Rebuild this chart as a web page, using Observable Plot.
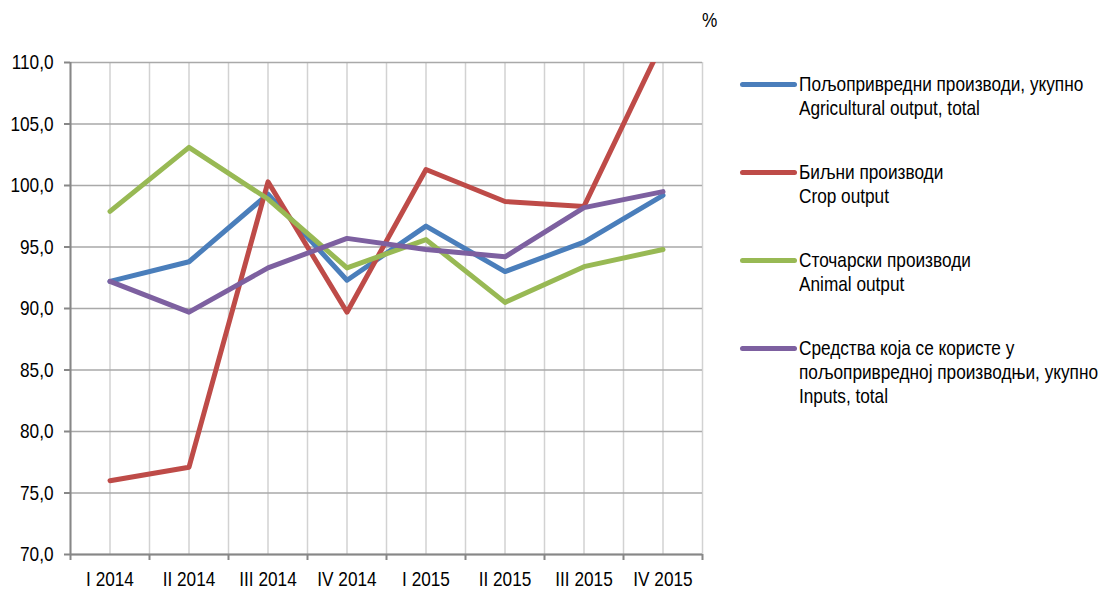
<!DOCTYPE html>
<html><head><meta charset="utf-8">
<script src="https://cdn.jsdelivr.net/npm/d3@7"></script>
<script src="https://cdn.jsdelivr.net/npm/@observablehq/plot@0.6"></script>
<style>
body{margin:0;background:#fff;}
#wrap{position:relative;width:1107px;height:590px;font-family:"Liberation Sans",Arial,sans-serif;color:#000;}
.sw{position:absolute;left:740px;width:57px;height:5px;border-radius:3px;}
.lt{position:absolute;left:799px;font-size:21px;line-height:24px;white-space:nowrap;transform:scaleX(0.82);transform-origin:left center;}
.pct{position:absolute;left:702px;top:8px;font-size:21px;transform:scaleX(0.82);transform-origin:left center;}
</style></head><body><div id="wrap"></div>
<script>
const quarters = ["I 2014","II 2014","III 2014","IV 2014","I 2015","II 2015","III 2015","IV 2015"];
const agricultural = [92.2, 93.8, 99.3, 92.3, 96.7, 93.0, 95.4, 99.2];
const crop = [76.0, 77.1, 100.3, 89.7, 101.3, 98.7, 98.3, 111.7];
const animal = [97.9, 103.1, 98.9, 93.3, 95.6, 90.5, 93.4, 94.8];
const inputs = [92.2, 89.7, 93.3, 95.7, 94.8, 94.2, 98.2, 99.5];
const seriesNames = ["Agricultural output, total","Crop output","Animal output","Inputs, total"];
const legendLabels = [
  ["Пољопривредни производи, укупно","Agricultural output, total"],
  ["Биљни производи","Crop output"],
  ["Сточарски производи","Animal output"],
  ["Средства која се користе у","пољопривредној производњи, укупно","Inputs, total"]
];
const colors = ["#4A7EBB","#BE4B48","#98B954","#7D60A0"];
const yTicks = [70,75,80,85,90,95,100,105,110];

const allSeries = [agricultural, crop, animal, inputs];
const rows = [];
allSeries.forEach((vals, s) => vals.forEach((v, i) => rows.push({i, q: quarters[i], value: v, series: seriesNames[s]})));
const edges = d3.range(quarters.length + 1).map(k => k - 0.5);
const halfGrid = d3.range(quarters.length * 2 + 1).map(k => k / 2 - 0.5);

const chart = Plot.plot({
  width: 1107, height: 590,
  marginLeft: 70, marginRight: 405, marginTop: 62, marginBottom: 36,
  style: {fontFamily: '"Liberation Sans",Arial,sans-serif', fontSize: "21px", color: "#000", background: "transparent"},
  x: {type: "linear", domain: [-0.5, quarters.length - 0.5]},
  y: {domain: [70, 110]},
  color: {domain: seriesNames, range: colors},
  marks: [
    Plot.ruleX(halfGrid, {stroke: "#d2d2d2", strokeWidth: 1.5}),
    Plot.ruleY(yTicks, {stroke: "#a9a9a9", strokeWidth: 1.5}),
    Plot.ruleX([edges[0]], {stroke: "#878787", strokeWidth: 2}),
    Plot.ruleY([70], {stroke: "#878787", strokeWidth: 2}),
    Plot.axisY({ticks: yTicks, tickSize: 6, tickPadding: 11, stroke: "#878787", strokeWidth: 2, tickFormat: d => d.toFixed(1).replace(".", ","), label: null}),
    Plot.axisX({ticks: edges, tickSize: 6, stroke: "#878787", strokeWidth: 2, tickFormat: () => "", label: null}),
    Plot.axisX({ticks: d3.range(quarters.length), tickSize: 0, tickPadding: 17, tickFormat: i => quarters[i], label: null}),
    Plot.line(rows, {x: "i", y: "value", z: "series", stroke: "series", strokeWidth: 5, clip: true})
  ]
});
// condense text horizontally (Arial Narrow look); y (em offsets) are unaffected by an x-only scale
chart.querySelectorAll("text").forEach(t => {
  if (!t.textContent) return;
  let tr = t.getAttribute("transform") || "";
  const x = parseFloat(t.getAttribute("x"));
  if (!isNaN(x)) { tr += ` translate(${x},0)`; t.removeAttribute("x"); }
  t.setAttribute("transform", tr + " scale(0.82,1)");
});
const wrap = document.getElementById("wrap");
wrap.appendChild(chart);
const pct = document.createElement("div");
pct.className = "pct"; pct.textContent = "%";
wrap.appendChild(pct);
const legendY = [84, 172, 260, 348];
legendLabels.forEach((lines, s) => {
  const sw = document.createElement("div");
  sw.className = "sw"; sw.style.top = (legendY[s] - 2.5) + "px"; sw.style.background = colors[s];
  wrap.appendChild(sw);
  const t = document.createElement("div");
  t.className = "lt"; t.style.top = (legendY[s] - 12) + "px";
  t.innerHTML = lines.map(l => `<div>${l}</div>`).join("");
  wrap.appendChild(t);
});
</script></body></html>
